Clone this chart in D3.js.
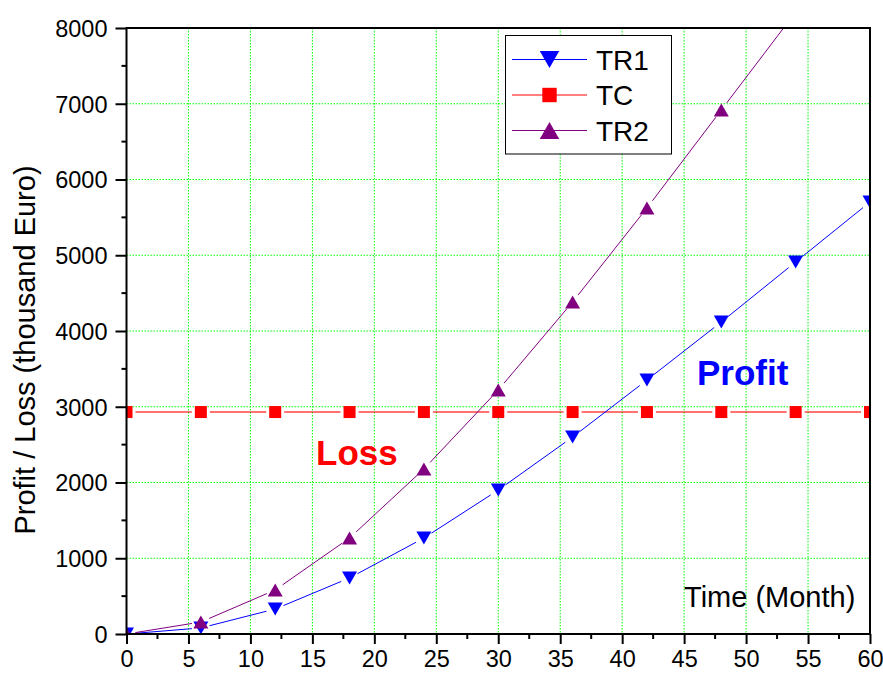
<!DOCTYPE html>
<html><head><meta charset="utf-8">
<script src="https://cdn.jsdelivr.net/npm/d3@7"></script>
<style>
body{margin:0;background:#fff;}
text{font-family:"Liberation Sans",Arial,Helvetica,sans-serif;}
</style></head>
<body><svg id="c" width="883" height="675"></svg>
<script>
const months = [0, 6, 12, 18, 24, 30, 36, 42, 48, 54, 60];
const tr1 = [0, 80, 330, 740, 1267, 1900, 2600, 3353, 4119, 4911, 5703];
const tc  = [2930, 2930, 2930, 2930, 2930, 2930, 2930, 2930, 2930, 2930, 2930];
const tr2 = [0, 158, 581, 1267, 2178, 3221, 4383, 5624, 6917, 8210];
const xTicks = [0, 5, 10, 15, 20, 25, 30, 35, 40, 45, 50, 55, 60];
const yTicks = [0, 1000, 2000, 3000, 4000, 5000, 6000, 7000, 8000];
const seriesNames = ["TR1", "TC", "TR2"];

const svg = d3.select("#c");
const L = 126.5, R = 870, T = 28, B = 634;
const x = d3.scaleLinear().domain([0, 60]).range([L, R]);
const y = d3.scaleLinear().domain([0, 8000]).range([B, T]);

svg.append("defs").append("clipPath").attr("id", "clip")
  .append("rect").attr("x", L).attr("y", T).attr("width", R - L).attr("height", B - T);

// grid
const grid = svg.append("g").attr("stroke", "#00ff00").attr("stroke-width", 1).attr("stroke-dasharray", "1.5,1.5");
xTicks.slice(1, -1).forEach(v => grid.append("line").attr("x1", x(v)).attr("x2", x(v)).attr("y1", T).attr("y2", B));
yTicks.slice(1, -1).forEach(v => grid.append("line").attr("x1", L).attr("x2", R).attr("y1", y(v)).attr("y2", y(v)));

// axes
const xAxis = d3.axisBottom(x).tickValues(xTicks).tickSize(10).tickPadding(6).tickFormat(d3.format("d"));
const gx = svg.append("g").attr("transform", `translate(0,${B})`).call(xAxis);
const yAxis = d3.axisLeft(y).tickValues(yTicks).tickSize(11).tickPadding(8).tickFormat(d3.format("d"));
const gy = svg.append("g").attr("transform", `translate(${L},0)`).call(yAxis);
[gx, gy].forEach(g => {
  g.select(".domain").remove();
  g.selectAll(".tick line").attr("stroke", "#000").attr("stroke-width", 2);
  g.selectAll(".tick text").attr("fill", "#000").attr("font-size", 23.5)
    .attr("font-family", '"Liberation Sans",Arial,sans-serif');
});
gx.selectAll(".tick text").attr("dy", "0.71em");
gy.selectAll(".tick text").attr("dy", "0.36em");
// minor ticks
const minorX = xTicks.slice(0, -1).map(v => v + 2.5);
const minorY = yTicks.slice(0, -1).map(v => v + 500);
const mg = svg.append("g").attr("stroke", "#000").attr("stroke-width", 2);
minorX.forEach(v => mg.append("line").attr("x1", x(v)).attr("x2", x(v)).attr("y1", B).attr("y2", B + 5));
minorY.forEach(v => mg.append("line").attr("x1", L).attr("x2", L - 5).attr("y1", y(v)).attr("y2", y(v)));

// markers
function downTri(g, cx, cy, c, s = 1) {
  g.append("path").attr("d", `M${cx-7.5*s},${cy-6.5*s}L${cx+7.5*s},${cy-6.5*s}L${cx},${cy+6.5*s}Z`).attr("fill", c);
}
function upTri(g, cx, cy, c, s = 1) {
  g.append("path").attr("d", `M${cx-7.5*s},${cy+6.5*s}L${cx+7.5*s},${cy+6.5*s}L${cx},${cy-6.5*s}Z`).attr("fill", c);
}
function square(g, cx, cy, c, s = 1) {
  g.append("rect").attr("x", cx - 6*s).attr("y", cy - 6*s).attr("width", 12*s).attr("height", 12*s).attr("fill", c);
}

// series
function drawSeries(vals, color, width, opacity, marker) {
  const g = svg.append("g").attr("clip-path", "url(#clip)");
  const pts = vals.map((v, i) => [x(months[i]), y(v)]);
  const gap = 9;
  for (let i = 0; i < pts.length - 1; i++) {
    const [x1, y1] = pts[i], [x2, y2] = pts[i + 1];
    const dx = x2 - x1, dy = y2 - y1, len = Math.hypot(dx, dy);
    if (len <= 2 * gap) continue;
    const ux = dx / len, uy = dy / len;
    g.append("line")
      .attr("x1", x1 + ux * gap).attr("y1", y1 + uy * gap)
      .attr("x2", x2 - ux * gap).attr("y2", y2 - uy * gap)
      .attr("stroke", color).attr("stroke-width", width).attr("stroke-opacity", opacity);
  }
  pts.forEach(p => marker(g, p[0], p[1], color));
}
drawSeries(tc, "#ff0000", 2, 0.55, square);
drawSeries(tr1, "#0000ff", 1, 1, downTri);
drawSeries(tr2, "#800080", 1, 1, upTri);

// frame
svg.append("rect").attr("x", L).attr("y", T).attr("width", R - L).attr("height", B - T)
  .attr("fill", "none").attr("stroke", "#000").attr("stroke-width", 2);

// legend
const lg = svg.append("g");
lg.append("rect").attr("x", 505.5).attr("y", 35.5).attr("width", 166).attr("height", 118.5)
  .attr("fill", "#fff").attr("stroke", "#000").attr("stroke-width", 1);
const legColors = ["#0000ff", "#ff0000", "#800080"];
const legMarkers = [downTri, square, upTri];
const legY = [59.5, 95, 130.5];
seriesNames.forEach((n, i) => {
  lg.append("line").attr("x1", 512).attr("x2", 587).attr("y1", legY[i]).attr("y2", legY[i])
    .attr("stroke", legColors[i]).attr("stroke-width", 1);
  legMarkers[i](lg, 549.5, legY[i], legColors[i], i === 1 ? 1.2 : 1.3);
  lg.append("text").attr("x", 596).attr("y", legY[i] + 10.2).attr("font-size", 28).attr("fill", "#000").text(n);
});

// titles
svg.append("text").attr("transform", "translate(35,350) rotate(-90)").attr("text-anchor", "middle")
  .attr("font-size", 29).attr("fill", "#000").text("Profit / Loss (thousand Euro)");
svg.append("text").attr("x", 684).attr("y", 607).attr("font-size", 29).attr("fill", "#000").text("Time (Month)");
svg.append("text").attr("x", 697).attr("y", 385).attr("font-size", 35).attr("font-weight", "bold")
  .attr("fill", "#0000ff").text("Profit");
svg.append("text").attr("x", 316).attr("y", 465).attr("font-size", 35).attr("font-weight", "bold")
  .attr("fill", "#ff0000").text("Loss");
</script></body></html>
